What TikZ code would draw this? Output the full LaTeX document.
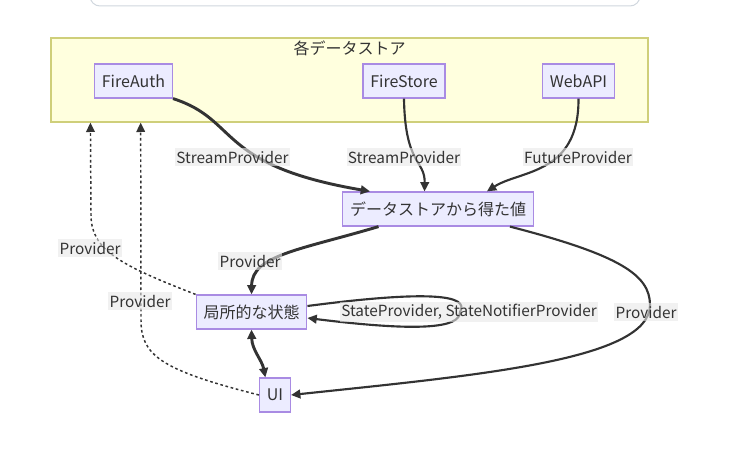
\documentclass[tikz,border=0pt]{standalone}
\usepackage{fontspec}
\setmainfont{Noto Sans CJK JP}
\usepackage{tikz}
\usetikzlibrary{positioning}
\usetikzlibrary{calc}
\usetikzlibrary{arrows.meta}
\definecolor{nodefill}{HTML}{ECECFF}
\definecolor{nodeline}{HTML}{A98BE3}
\definecolor{clfill}{HTML}{FFFFDE}
\definecolor{clline}{HTML}{CFCF7A}
\definecolor{txt}{HTML}{333333}
\definecolor{lblfill}{HTML}{E8E8E8}
\definecolor{boxline}{HTML}{D0D7DE}

\begin{document}
\begin{tikzpicture}[
    x=0.75pt, y=-0.75pt,
    thick,
    font=\fontsize{12}{14}\selectfont,
    text=txt,
    >={Triangle[length=7pt,width=6.5pt]}
]
\tikzset{
    mynode/.style = {rectangle, draw=nodeline, line width=0.9pt, fill=nodefill, minimum height=25.5pt, inner xsep=5.5pt, inner ysep=0pt},
    mycluster/.style = {rectangle, draw=clline, line width=1pt, fill=clfill, minimum width=447.75pt, minimum height=63pt},
    edgelbl/.style = {fill=lblfill, fill opacity=0.6, text opacity=1, inner xsep=1pt, inner ysep=2pt, font=\fontsize{11.5}{14}\selectfont},
    edget/.style = {->, line width=2.2pt, draw=txt},
    edgen/.style = {->, line width=1.6pt, draw=txt},
    edged/.style = {->, line width=1.1pt, draw=txt, dash pattern=on 2pt off 2pt}
}
\useasboundingbox (0,0) rectangle (747,449);
\draw[draw=boxline, line width=0.75pt, fill=white, rounded corners=7.5pt] (90,-30) rectangle (640,6);
% data stores
\node[mycluster] at (349.5,80) (stores) {};
\node at (349.5,48) (title) {各データストア};
\node[mynode] at (133.5,81) (auth) {FireAuth};
\node[mynode] at (404,81) (store) {FireStore};
\node[mynode] at (578.5,81) (api) {WebAPI};
\node[mynode] at (438,209) (val) {データストアから得た値};
\node[mynode] at (251.5,312) (local) {局所的な状態};
\node[mynode] at (275,395) (ui) {UI};
% edges
\draw[edget] (auth.south east) .. controls (240,120) and (215,165) .. ($(val.north west)!0.146!(val.north east)$);
\draw[edgen] (store.south) .. controls (405,165) and (425,160) .. ($(val.north west)!0.43!(val.north east)$);
\draw[edgen] (api.south) .. controls (579,175) and (520,170) .. ($(val.north west)!0.755!(val.north east)$);
\draw[edget] ($(val.south west)!0.19!(val.south east)$) .. controls (300,250) and (252,255) .. (local.north);
\draw[edgen] ($(val.south west)!0.875!(val.south east)$) .. controls (620,255) and (650,275) .. (650,305) .. controls (650,360) and (480,375) .. (ui.east);
\draw[edgen] ([yshift=4.5pt]local.east) .. controls (430,290) and (470,295) .. (460,312) .. controls (460,328) and (420,332) .. ([yshift=-4.5pt]local.east);
\draw[edget, <->] (local.south) .. controls (252,350) and (262,360) .. ($(ui.north west)!0.2!(ui.north east)$);
\draw[edged] (local.north west) .. controls (120,265) and (91,250) .. (91,215) -- ($(stores.south west)!0.067!(stores.south east)$);
\draw[edged] (ui.west) .. controls (160,370) and (141,355) .. (141,320) -- ($(stores.south west)!0.151!(stores.south east)$);
% edge labels
\node[edgelbl] at (232.5,157) (l1) {StreamProvider};
\node[edgelbl] at (404,157) (l2) {StreamProvider};
\node[edgelbl] at (578,157) (l3) {FutureProvider};
\node[edgelbl] at (250,261) (l4) {Provider};
\node[edgelbl] at (90,248) (l5) {Provider};
\node[edgelbl] at (140,301) (l6) {Provider};
\node[edgelbl] at (469,312) (l7) {StateProvider, StateNotifierProvider};
\node[edgelbl] at (646,312) (l8) {Provider};
\end{tikzpicture}
\end{document}
